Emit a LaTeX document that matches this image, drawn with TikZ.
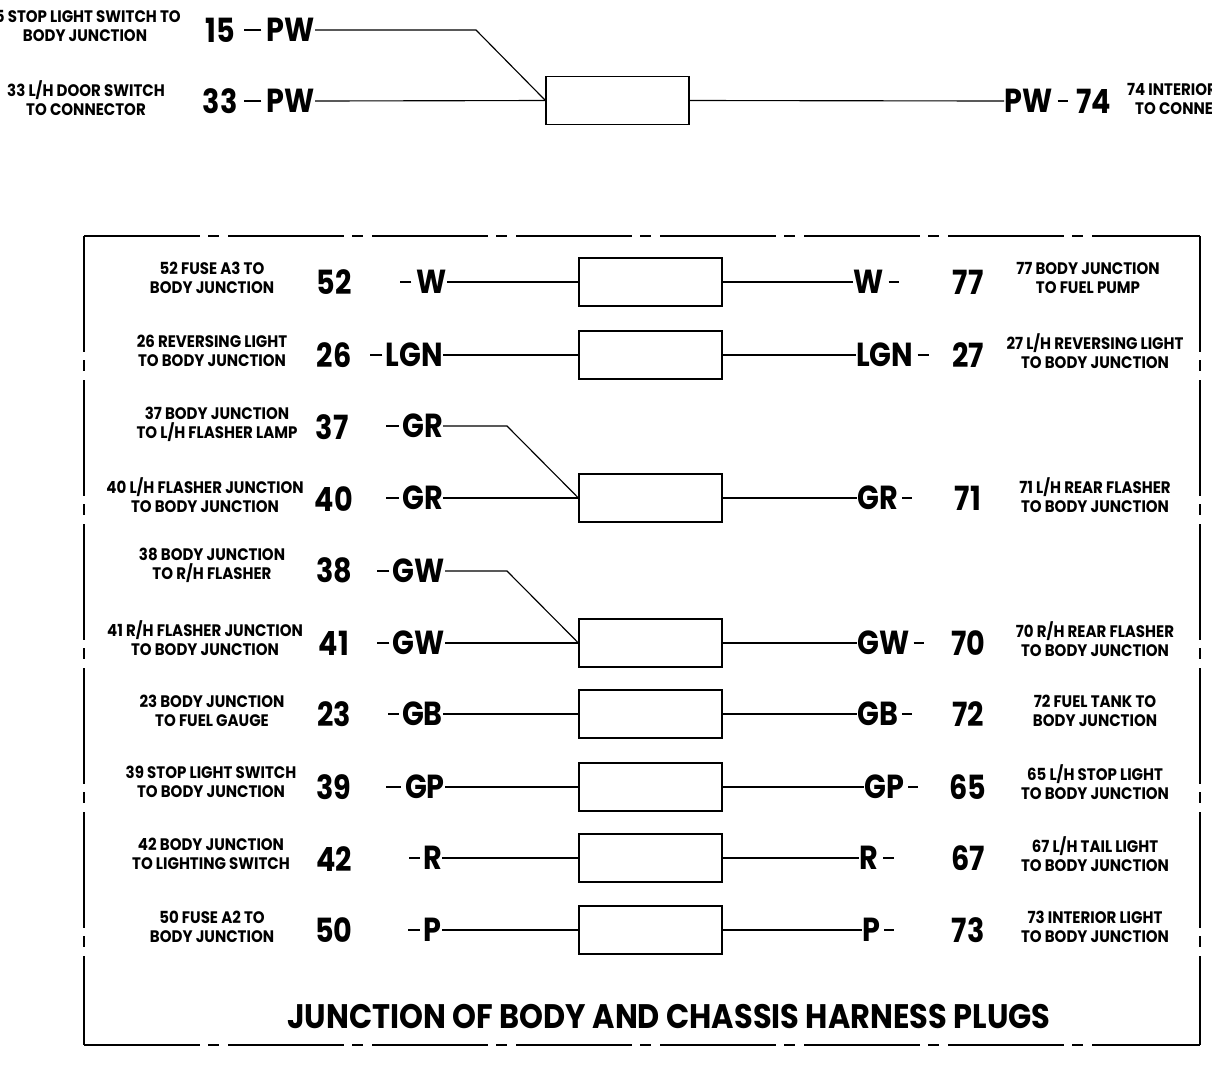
\documentclass[tikz,border=0pt]{standalone}
\usepackage{fontspec}
\newfontfamily\gfb{Poppins}[FakeStretch=0.86]
\newfontfamily\gfs{Poppins}[FakeStretch=0.90]
\newfontfamily\gft{Poppins}[FakeStretch=0.895]
\tikzset{
  lab/.style={font=\gfs\fontsize{12.5pt}{14.25pt}\selectfont\bfseries, align=center, inner sep=0pt},
  num/.style={font=\gfb\fontsize{25pt}{30pt}\selectfont\bfseries, inner sep=0pt},
  code/.style={font=\gfb\fontsize{25pt}{30pt}\selectfont\bfseries, inner sep=0pt},
  ttl/.style={font=\gft\fontsize{25.5pt}{30pt}\selectfont\bfseries, inner sep=0pt},
  plug/.style={draw, line width=0.85pt, inner sep=0pt, minimum width=107.25pt, minimum height=36pt},
  wire/.style={line width=0.85pt},
  tick/.style={line width=0.85pt},
  frame/.style={line width=0.85pt, dash pattern=on 87pt off 6pt on 8.25pt off 6.75pt}
}
\begin{document}
\begin{tikzpicture}[x=0.75pt,y=-0.75pt]
\useasboundingbox (0,0) rectangle (1212,1076);

% ---------------- top section ----------------
\node[lab] (l15) at (85,26) {15 STOP LIGHT SWITCH TO\\BODY JUNCTION};
\node[lab] (l33) at (86,98.5) {33 L/H DOOR SWITCH\\TO CONNECTOR};
\node[num] (n15) at (220,30) {15};
\node[num] (n33) at (220,101) {33};
\node[code,anchor=east] (c15) at (315,30) {PW};
\node[code,anchor=east] (c33) at (315,101) {PW};
\draw[tick] (c15.west) ++(-5,0) -- ++(-17,0);
\draw[tick] (c33.west) ++(-5,0) -- ++(-17,0);
\node[plug] (btop) at (617.5,100.5) {};
\coordinate (k15) at (476,30);
\draw[wire] (c15.east) -- (k15) -- (btop.west);
\draw[wire] (c33.east) -- (btop.west);
\node[code,anchor=west] (c74) at (1004,101) {PW};
\draw[wire] (btop.east) -- (c74.west);
\draw[tick] (c74.east) ++(5,0) -- ++(10,0);
\node[num] (n74) at (1094,101) {74};
\node[lab] (l74) at (1195,99) {74 INTERIOR LIGHT\\TO CONNECTOR};

% ---------------- frame ----------------
\coordinate (fTL) at (84,236);
\coordinate (fTR) at (1200,236);
\coordinate (fBL) at (84,1045);
\coordinate (fBR) at (1200,1045);
\draw[frame] (fTL) -- (fTR);
\draw[frame] (fBL) -- (fBR);
\draw[frame] (fTL) -- (fBL);
\draw[frame] (fTR) -- (fBR);

% ---------------- row 52 / 77 ----------------
\node[lab] (l52) at (212,278) {52 FUSE A3 TO\\BODY JUNCTION};
\node[num] (n52) at (334,282) {52};
\node[code,anchor=east] (cl52) at (447,282) {W};
\draw[tick] (cl52.west) ++(-5,0) -- ++(-11,0);
\node[plug] (b52) at (650.5,282) {};
\draw[wire] (cl52.east) -- (b52.west);
\node[code,anchor=west] (cr77) at (853,282) {W};
\draw[wire] (b52.east) -- (cr77.west);
\draw[tick] (cr77.east) ++(5,0) -- ++(10,0);
\node[num] (n77) at (968,282) {77};
\node[lab] (l77) at (1088,278) {77 BODY JUNCTION\\TO FUEL PUMP};

% ---------------- row 26 / 27 ----------------
\node[lab] (l26) at (212,351) {26 REVERSING LIGHT\\TO BODY JUNCTION};
\node[num] (n26) at (334,355) {26};
\node[code,anchor=east] (cl26) at (443,355) {LGN};
\draw[tick] (cl26.west) ++(-3,0) -- ++(-12,0);
\node[plug] (b26) at (650.5,355) {};
\draw[wire] (cl26.east) -- (b26.west);
\node[code,anchor=west] (cr27) at (856,355) {LGN};
\draw[wire] (b26.east) -- (cr27.west);
\draw[tick] (cr27.east) ++(4,0) -- ++(11,0);
\node[num] (n27) at (968,355) {27};
\node[lab] (l27) at (1095,351) {27 L/H REVERSING LIGHT\\TO BODY JUNCTION};

% ---------------- row 37 ----------------
\node[lab] (l37) at (217,424) {37 BODY JUNCTION\\TO L/H FLASHER LAMP};
\node[num] (n37) at (332,427) {37};
\node[code,anchor=east] (cl37) at (443,426) {GR};
\draw[tick] (cl37.west) ++(-3,0) -- ++(-13,0);

% ---------------- row 40 / 71 ----------------
\node[lab] (l40) at (205,495) {40 L/H FLASHER JUNCTION\\TO BODY JUNCTION};
\node[num] (n40) at (334,499) {40};
\node[code,anchor=east] (cl40) at (443,498) {GR};
\draw[tick] (cl40.west) ++(-3,0) -- ++(-13,0);
\node[plug] (b40) at (650.5,498) {};
\draw[wire] (cl40.east) -- (b40.west);
\coordinate (k37) at (507,426);
\draw[wire] (cl37.east) -- (k37) -- (b40.west);
\node[code,anchor=west] (cr71) at (857,498) {GR};
\draw[wire] (b40.east) -- (cr71.west);
\draw[tick] (cr71.east) ++(4,0) -- ++(10,0);
\node[num] (n71) at (968,498) {71};
\node[lab] (l71) at (1095,495.5) {71 L/H REAR FLASHER\\TO BODY JUNCTION};

% ---------------- row 38 ----------------
\node[lab] (l38) at (212,565) {38 BODY JUNCTION\\TO R/H FLASHER};
\node[num] (n38) at (334,570) {38};
\node[code,anchor=east] (cl38) at (445,571) {GW};
\draw[tick] (cl38.west) ++(-3,0) -- ++(-12,0);

% ---------------- row 41 / 70 ----------------
\node[lab] (l41) at (205,638) {41 R/H FLASHER JUNCTION\\TO BODY JUNCTION};
\node[num] (n41) at (334,643) {41};
\node[code,anchor=east] (cl41) at (445,643) {GW};
\draw[tick] (cl41.west) ++(-3,0) -- ++(-12,0);
\node[plug] (b41) at (650.5,643) {};
\draw[wire] (cl41.east) -- (b41.west);
\coordinate (k38) at (507,571);
\draw[wire] (cl38.east) -- (k38) -- (b41.west);
\node[code,anchor=west] (cr70) at (857,643) {GW};
\draw[wire] (b41.east) -- (cr70.west);
\draw[tick] (cr70.east) ++(4,0) -- ++(10,0);
\node[num] (n70) at (968,643) {70};
\node[lab] (l70) at (1095,639) {70 R/H REAR FLASHER\\TO BODY JUNCTION};

% ---------------- row 23 / 72 ----------------
\node[lab] (l23) at (212,711) {23 BODY JUNCTION\\TO FUEL GAUGE};
\node[num] (n23) at (334,714) {23};
\node[code,anchor=east] (cl23) at (443,714) {GB};
\draw[tick] (cl23.west) ++(-3,0) -- ++(-11,0);
\node[plug] (b23) at (650.5,714) {};
\draw[wire] (cl23.east) -- (b23.west);
\node[code,anchor=west] (cr72) at (857,714) {GB};
\draw[wire] (b23.east) -- (cr72.west);
\draw[tick] (cr72.east) ++(4,0) -- ++(10,0);
\node[num] (n72) at (968,714) {72};
\node[lab] (l72) at (1095,711) {72 FUEL TANK TO\\BODY JUNCTION};

% ---------------- row 39 / 65 ----------------
\node[lab] (l39) at (211,782) {39 STOP LIGHT SWITCH\\TO BODY JUNCTION};
\node[num] (n39) at (334,787) {39};
\node[code,anchor=east] (cl39) at (445,787) {GP};
\draw[tick] (cl39.west) ++(-4,0) -- ++(-15,0);
\node[plug] (b39) at (650.5,787) {};
\draw[wire] (cl39.east) -- (b39.west);
\node[code,anchor=west] (cr65) at (864,787) {GP};
\draw[wire] (b39.east) -- (cr65.west);
\draw[tick] (cr65.east) ++(4,0) -- ++(10,0);
\node[num] (n65) at (968,787) {65};
\node[lab] (l65) at (1095,782) {65 L/H STOP LIGHT\\TO BODY JUNCTION};

% ---------------- row 42 / 67 ----------------
\node[lab] (l42) at (211,854) {42 BODY JUNCTION\\TO LIGHTING SWITCH};
\node[num] (n42) at (334,859) {42};
\node[code,anchor=east] (cl42) at (442,858) {R};
\draw[tick] (cl42.west) ++(-3,0) -- ++(-11,0);
\node[plug] (b42) at (650.5,858) {};
\draw[wire] (cl42.east) -- (b42.west);
\node[code,anchor=west] (cr67) at (859,858) {R};
\draw[wire] (b42.east) -- (cr67.west);
\draw[tick] (cr67.east) ++(5,0) -- ++(11,0);
\node[num] (n67) at (968,858) {67};
\node[lab] (l67) at (1095,854) {67 L/H TAIL LIGHT\\TO BODY JUNCTION};

% ---------------- row 50 / 73 ----------------
\node[lab] (l50) at (212,926.5) {50 FUSE A2 TO\\BODY JUNCTION};
\node[num] (n50) at (334,930) {50};
\node[code,anchor=east] (cl50) at (442,930) {P};
\draw[tick] (cl50.west) ++(-4,0) -- ++(-12,0);
\node[plug] (b50) at (650.5,930) {};
\draw[wire] (cl50.east) -- (b50.west);
\node[code,anchor=west] (cr73) at (862,930) {P};
\draw[wire] (b50.east) -- (cr73.west);
\draw[tick] (cr73.east) ++(4,0) -- ++(10,0);
\node[num] (n73) at (968,930) {73};
\node[lab] (l73) at (1095,926.5) {73 INTERIOR LIGHT\\TO BODY JUNCTION};

% ---------------- title ----------------
\node[ttl] (title) at (669,1016) {JUNCTION OF BODY AND CHASSIS HARNESS PLUGS};
\end{tikzpicture}
\end{document}
